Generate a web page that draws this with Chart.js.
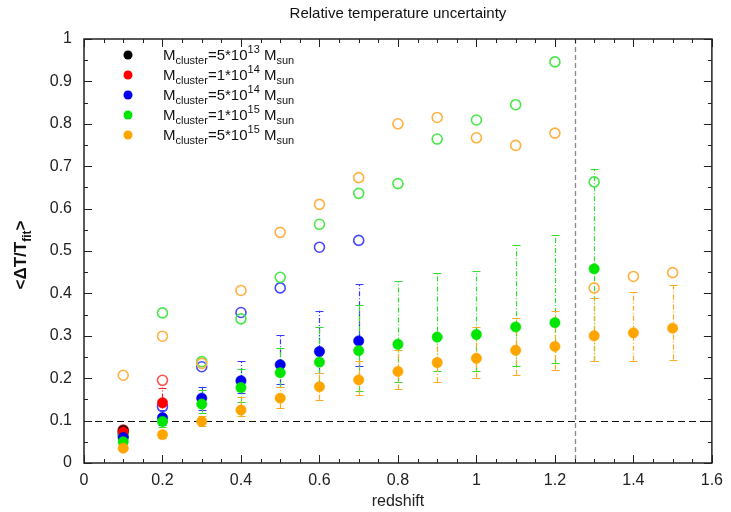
<!DOCTYPE html>
<html><head><meta charset="utf-8">
<script src="https://cdn.jsdelivr.net/npm/chart.js@4/dist/chart.umd.min.js"></script>
<style>html,body{margin:0;padding:0;background:#fff}#wrap{width:731px;height:512px}</style>
</head><body><div id="wrap"><canvas id="c" width="731" height="512"></canvas></div>
<script>
// ---------- data ----------
const xTickValues = [0, 0.2, 0.4, 0.6, 0.8, 1, 1.2, 1.4, 1.6];
const xTickLabels = ['0', '0.2', '0.4', '0.6', '0.8', '1', '1.2', '1.4', '1.6'];
const yTickValues = [0, 0.1, 0.2, 0.3, 0.4, 0.5, 0.6, 0.7, 0.8, 0.9, 1];
const yTickLabels = ['0', '0.1', '0.2', '0.3', '0.4', '0.5', '0.6', '0.7', '0.8', '0.9', '1'];

const seriesNames = ['5*10', '1*10', '5*10', '1*10', '5*10'];
const seriesExps = ['13', '14', '14', '15', '15'];

const zBlack = [0.1];
const meanBlack = [0.077];
const loBlack = [0.070];
const hiBlack = [0.083];
const openBlack = [0.072];

const zRed = [0.1, 0.2];
const meanRed = [0.073, 0.142];
const loRed = [0.066, 0.105];
const hiRed = [0.080, 0.178];
const openRed = [0.078, 0.195];

const zBlue = [0.1, 0.2, 0.3, 0.4, 0.5, 0.6, 0.7];
const meanBlue = [0.060, 0.107, 0.153, 0.194, 0.232, 0.263, 0.288];
const loBlue = [0.052, 0.090, 0.125, 0.165, 0.186, 0.212, 0.228];
const hiBlue = [0.068, 0.125, 0.180, 0.240, 0.302, 0.359, 0.421];
const openBlue = [0.065, 0.133, 0.227, 0.355, 0.413, 0.509, 0.525];

const zGreen = [0.1, 0.2, 0.3, 0.4, 0.5, 0.6, 0.7, 0.8, 0.9, 1.0, 1.1, 1.2, 1.3];
const meanGreen = [0.050, 0.098, 0.139, 0.178, 0.213, 0.238, 0.265, 0.280, 0.297, 0.303, 0.321, 0.331, 0.458];
const loGreen = [0.043, 0.085, 0.119, 0.145, 0.179, 0.186, 0.170, 0.190, 0.216, 0.216, 0.228, 0.236, 0.240];
const hiGreen = [0.057, 0.112, 0.171, 0.222, 0.272, 0.320, 0.372, 0.429, 0.448, 0.453, 0.513, 0.538, 0.694];
const openGreen = [0.068, 0.354, 0.239, 0.340, 0.438, 0.563, 0.636, 0.659, 0.764, 0.809, 0.845, 0.946, 0.663];

const zOrange = [0.1, 0.2, 0.3, 0.4, 0.5, 0.6, 0.7, 0.8, 0.9, 1.0, 1.1, 1.2, 1.3, 1.4, 1.5];
const meanOrange = [0.035, 0.067, 0.098, 0.125, 0.153, 0.180, 0.196, 0.216, 0.237, 0.247, 0.266, 0.275, 0.300, 0.307, 0.318];
const loOrange = [0.030, 0.060, 0.088, 0.111, 0.129, 0.149, 0.160, 0.174, 0.191, 0.201, 0.208, 0.220, 0.241, 0.241, 0.244];
const hiOrange = [0.040, 0.075, 0.110, 0.155, 0.179, 0.212, 0.241, 0.267, 0.300, 0.320, 0.342, 0.359, 0.388, 0.403, 0.420];
const openOrange = [0.207, 0.299, 0.235, 0.407, 0.544, 0.610, 0.673, 0.800, 0.815, 0.767, 0.749, 0.778, 0.413, 0.440, 0.449];

const thresholdY = 0.1;
const cutoffZ = 1.25;

// ---------- build ----------
const series = [
  {z: zBlack, mean: meanBlack, lo: loBlack, hi: hiBlack, open: openBlack, fill: '#000000', ring: '#333333', bar: '#222222'},
  {z: zRed, mean: meanRed, lo: loRed, hi: hiRed, open: openRed, fill: '#ff0000', ring: '#ff5050', bar: '#ff2020'},
  {z: zBlue, mean: meanBlue, lo: loBlue, hi: hiBlue, open: openBlue, fill: '#0000ee', ring: '#4848ff', bar: '#3838ff'},
  {z: zGreen, mean: meanGreen, lo: loGreen, hi: hiGreen, open: openGreen, fill: '#00e600', ring: '#48e848', bar: '#30dd30'},
  {z: zOrange, mean: meanOrange, lo: loOrange, hi: hiOrange, open: openOrange, fill: '#ffa500', ring: '#ffb040', bar: '#ffaa22'}
];

const datasets = [];
series.forEach((s, i) => {
  datasets.push({
    label: 'open' + i,
    data: s.z.map((z, k) => ({x: z, y: s.open[k]})),
    pointRadius: 5, pointHoverRadius: 5,
    pointBackgroundColor: 'rgba(0,0,0,0)',
    pointBorderColor: s.ring, pointBorderWidth: 1.6,
    showLine: false, order: 10 - i
  });
});
series.forEach((s, i) => {
  datasets.push({
    label: 'mean' + i,
    data: s.z.map((z, k) => ({x: z, y: s.mean[k]})),
    pointRadius: 5.2, pointHoverRadius: 5.2,
    pointBackgroundColor: s.fill,
    pointBorderColor: s.fill, pointBorderWidth: 0.5,
    showLine: false, order: 5 - i
  });
});

const FONT = '"Liberation Sans", Arial, Helvetica, sans-serif';

const decor = {
  id: 'decor',
  beforeDatasetsDraw(chart) {
    const {ctx, chartArea: a, scales: {x, y}} = chart;
    ctx.save();
    // reference lines
    ctx.lineWidth = 1;
    ctx.strokeStyle = '#111';
    ctx.setLineDash([7, 4]);
    const yy = Math.round(y.getPixelForValue(thresholdY)) + 0.5;
    ctx.beginPath(); ctx.moveTo(a.left, yy); ctx.lineTo(a.right, yy); ctx.stroke();
    ctx.strokeStyle = '#8a8a8a';
    ctx.lineWidth = 1.3;
    ctx.setLineDash([5, 3]);
    const xx = Math.round(x.getPixelForValue(cutoffZ)) + 0.5;
    ctx.beginPath(); ctx.moveTo(xx, a.top); ctx.lineTo(xx, a.bottom); ctx.stroke();
    // error bars
    series.forEach(s => {
      ctx.strokeStyle = s.bar;
      ctx.lineWidth = 1.2;
      s.z.forEach((z, k) => {
        const px = Math.round(x.getPixelForValue(z)) + 0.5;
        const pl = y.getPixelForValue(s.lo[k]);
        const ph = y.getPixelForValue(s.hi[k]);
        ctx.setLineDash([5, 2, 1, 2]);
        ctx.beginPath(); ctx.moveTo(px, pl); ctx.lineTo(px, ph); ctx.stroke();
        ctx.setLineDash([]);
        ctx.beginPath();
        ctx.moveTo(px - 4, Math.round(pl) + 0.5); ctx.lineTo(px + 4, Math.round(pl) + 0.5);
        ctx.moveTo(px - 4, Math.round(ph) + 0.5); ctx.lineTo(px + 4, Math.round(ph) + 0.5);
        ctx.stroke();
      });
    });
    ctx.restore();
  },
  afterDraw(chart) {
    const {ctx, chartArea: a, scales: {x, y}} = chart;
    ctx.save();
    ctx.setLineDash([]);
    // frame
    ctx.strokeStyle = '#222';
    ctx.lineWidth = 1.5;
    ctx.strokeRect(a.left, a.top, a.right - a.left, a.bottom - a.top);
    // inward ticks
    ctx.lineWidth = 1;
    ctx.beginPath();
    for (let v = 0; v <= 1.6001; v += 0.05) {
      const px = Math.round(x.getPixelForValue(v)) + 0.5;
      const major = Math.abs(v / 0.2 - Math.round(v / 0.2)) < 1e-6;
      const L = major ? 8 : 4;
      ctx.moveTo(px, a.bottom); ctx.lineTo(px, a.bottom - L);
      ctx.moveTo(px, a.top); ctx.lineTo(px, a.top + L);
    }
    for (let v = 0; v <= 1.0001; v += 0.05) {
      const py = Math.round(y.getPixelForValue(v)) + 0.5;
      const major = Math.abs(v / 0.1 - Math.round(v / 0.1)) < 1e-6;
      const L = major ? 8 : 4;
      ctx.moveTo(a.left, py); ctx.lineTo(a.left + L, py);
      ctx.moveTo(a.right, py); ctx.lineTo(a.right - L, py);
    }
    ctx.stroke();

    // title
    ctx.fillStyle = '#111';
    ctx.font = '15px ' + FONT;
    ctx.textAlign = 'center';
    ctx.textBaseline = 'middle';
    ctx.fillText('Relative temperature uncertainty', (a.left + a.right) / 2, 14);

    // y axis title, rotated, with subscript
    ctx.save();
    ctx.translate(20, (a.top + a.bottom) / 2 + 4);
    ctx.rotate(-Math.PI / 2);
    const big = 'bold 17px ' + FONT, small = 'bold 12px ' + FONT;
    const parts = [['<\u0394T/T', big, 0], ['fit', small, 5], ['>', big, 0]];
    let tw = 0;
    parts.forEach(p => { ctx.font = p[1]; tw += ctx.measureText(p[0]).width; });
    let cx = -tw / 2;
    ctx.textAlign = 'left';
    ctx.textBaseline = 'alphabetic';
    parts.forEach(p => { ctx.font = p[1]; ctx.fillText(p[0], cx, 6 + p[2]); cx += ctx.measureText(p[0]).width; });
    ctx.restore();

    // legend
    const rowY0 = 55, rowStep = 20, markX = 128, textX = 163;
    series.forEach((s, i) => {
      const ry = rowY0 + i * rowStep;
      ctx.beginPath();
      ctx.fillStyle = s.fill;
      ctx.arc(markX, ry, 4.5, 0, Math.PI * 2);
      ctx.fill();
      ctx.fillStyle = '#111';
      ctx.textAlign = 'left';
      ctx.textBaseline = 'alphabetic';
      const base = ry + 5;
      const segs = [
        ['M', '15px', 0], ['cluster', '11px', 4], ['=' + seriesNames[i], '15px', 0],
        [seriesExps[i], '11px', -7], [' M', '15px', 0], ['sun', '11px', 4]
      ];
      let tx = textX;
      segs.forEach(g => {
        ctx.font = g[1] + ' ' + FONT;
        ctx.fillText(g[0], tx, base + g[2]);
        tx += ctx.measureText(g[0]).width;
      });
    });
    ctx.restore();
  }
};

new Chart(document.getElementById('c'), {
  type: 'scatter',
  data: {datasets},
  options: {
    responsive: false, animation: false, devicePixelRatio: 1,
    layout: {padding: {left: 0, right: 17, top: 39, bottom: 0}},
    plugins: {legend: {display: false}, title: {display: false}, tooltip: {enabled: false}},
    scales: {
      x: {
        type: 'linear', min: 0, max: 1.6,
        grid: {display: false, drawTicks: false}, border: {display: false},
        afterBuildTicks: sc => { sc.ticks = xTickValues.map(v => ({value: v})); },
        afterFit: sc => { sc.height = 49; },
        ticks: {
          callback: (v, i) => xTickLabels[i], padding: 8, maxRotation: 0, autoSkip: false,
          color: '#222', font: {family: FONT, size: 16}
        },
        title: {display: true, text: 'redshift', color: '#222', font: {family: FONT, size: 16}, padding: {top: 0, bottom: 1}}
      },
      y: {
        type: 'linear', min: 0, max: 1,
        grid: {display: false, drawTicks: false}, border: {display: false},
        afterBuildTicks: sc => { sc.ticks = yTickValues.map(v => ({value: v})); },
        afterFit: sc => { sc.width = 84; },
        ticks: {
          callback: (v, i) => yTickLabels[i], padding: 12, autoSkip: false,
          color: '#222', font: {family: FONT, size: 16}
        }
      }
    }
  },
  plugins: [decor]
});
</script></body></html>
